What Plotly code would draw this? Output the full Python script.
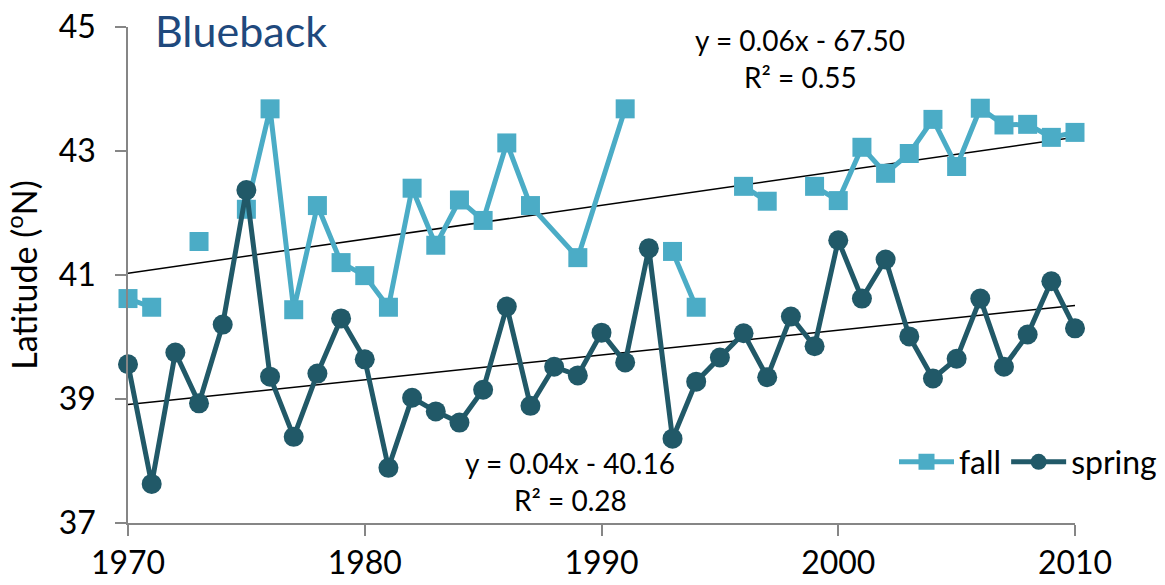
import plotly.graph_objects as go

# ---- data ----
fall_years = [1970, 1971, 1972, 1973, 1974, 1975, 1976, 1977, 1978, 1979, 1980,
              1981, 1982, 1983, 1984, 1985, 1986, 1987, 1989, 1991, 1992, 1993,
              1994, 1995, 1996, 1997, 1998, 1999, 2000, 2001, 2002, 2003, 2004,
              2005, 2006, 2007, 2008, 2009, 2010]
fall_lat = [40.62, 40.48, None, 41.54, None, 42.06, 43.68, 40.44, 42.12, 41.20, 40.99,
            40.48, 42.40, 41.48, 42.21, 41.88, 43.13, 42.12, 41.28, 43.68, None, 41.38,
            40.48, None, 42.43, 42.19, None, 42.43, 42.20, 43.06, 42.64, 42.96, 43.51,
            42.75, 43.69, 43.42, 43.43, 43.22, 43.30]

spring_years = list(range(1970, 2011))
spring_lat = [39.56, 37.63, 39.75, 38.93, 40.20, 42.37, 39.36, 38.39, 39.41, 40.30,
              39.64, 37.89, 39.02, 38.80, 38.62, 39.15, 40.49, 38.89, 39.52, 39.38,
              40.07, 39.59, 41.43, 38.36, 39.28, 39.67, 40.06, 39.35, 40.33, 39.85,
              41.56, 40.62, 41.25, 40.01, 39.33, 39.65, 40.62, 39.52, 40.04, 40.90,
              40.14]

# linear trend lines (as drawn in the reference), end points
trend_years = [1970, 2010]
fall_trend = [41.03, 43.22]
spring_trend = [38.91, 40.51]

fall_eq = ["y = 0.06x - 67.50", "R² = 0.55"]
spring_eq = ["y = 0.04x - 40.16", "R² = 0.28"]

x_ticks = [1970, 1980, 1990, 2000, 2010]
y_ticks = [37, 39, 41, 43, 45]

FALL_C = "#4BACC6"
SPRING_C = "#215968"
FONT = "Lato"

fig = go.Figure()

for ty in (fall_trend, spring_trend):
    fig.add_trace(go.Scatter(x=trend_years, y=ty, mode="lines",
                             line=dict(color="black", width=1.5),
                             showlegend=False, hoverinfo="skip"))

fig.add_trace(go.Scatter(x=fall_years, y=fall_lat, mode="lines+markers", name="fall",
                         line=dict(color=FALL_C, width=5),
                         marker=dict(symbol="square", size=19, color=FALL_C),
                         connectgaps=False, cliponaxis=False))
fig.add_trace(go.Scatter(x=spring_years, y=spring_lat, mode="lines+markers", name="spring",
                         line=dict(color=SPRING_C, width=5),
                         marker=dict(symbol="circle", size=20, color=SPRING_C),
                         cliponaxis=False))

L, R, T, B = 128, 1075, 27, 523
W, H = R - L, B - T


def px(xp):
    return (xp - L) / W


def py(yp):
    return (B - yp) / H


ann_font = dict(family=FONT, size=28, color="black")
annotations = [
    dict(text="Blueback", xref="paper", yref="paper", x=px(153), y=py(31),
         xanchor="left", yanchor="middle", showarrow=False,
         font=dict(family=FONT, size=43, color="#1F497D")),
    dict(text=fall_eq[0], xref="paper", yref="paper", x=px(800), y=py(40),
         xanchor="center", yanchor="middle", showarrow=False, font=ann_font),
    dict(text=fall_eq[1], xref="paper", yref="paper", x=px(800), y=py(77),
         xanchor="center", yanchor="middle", showarrow=False, font=ann_font),
    dict(text=spring_eq[0], xref="paper", yref="paper", x=px(570), y=py(463),
         xanchor="center", yanchor="middle", showarrow=False, font=ann_font),
    dict(text=spring_eq[1], xref="paper", yref="paper", x=px(570), y=py(500),
         xanchor="center", yanchor="middle", showarrow=False, font=ann_font),
]

fig.update_layout(
    width=1165, height=585,
    margin=dict(l=L, r=1165 - R, t=T, b=585 - B, autoexpand=False),
    plot_bgcolor="white", paper_bgcolor="white",
    font=dict(family=FONT, size=32, color="black"),
    annotations=annotations,
    legend=dict(orientation="h", x=px(1162), xanchor="right", y=py(462), yanchor="middle",
                font=dict(family=FONT, size=32), itemwidth=55, bgcolor="rgba(0,0,0,0)",
                tracegroupgap=0, itemsizing="trace"),
    xaxis=dict(range=[1970, 2010], tickvals=x_ticks, ticktext=[str(v) for v in x_ticks],
               showgrid=False, zeroline=False, showline=True, linecolor="#868686", linewidth=1.5,
               ticks="outside", ticklen=11, tickcolor="#868686", tickwidth=1.5,
               tickfont=dict(family=FONT, size=32)),
    yaxis=dict(range=[37, 45], tickvals=y_ticks, ticktext=[str(v) for v in y_ticks],
               showgrid=False, zeroline=False, showline=True, linecolor="#868686", linewidth=1.5,
               ticks="outside", ticklen=11, tickcolor="#868686", tickwidth=1.5,
               ticklabelstandoff=13,
               tickfont=dict(family=FONT, size=32),
               title=dict(text="Latitude (<sup>o</sup>N)", font=dict(family=FONT, size=34),
                          standoff=12)),
    showlegend=True,
)

fig.write_html("out.html")
